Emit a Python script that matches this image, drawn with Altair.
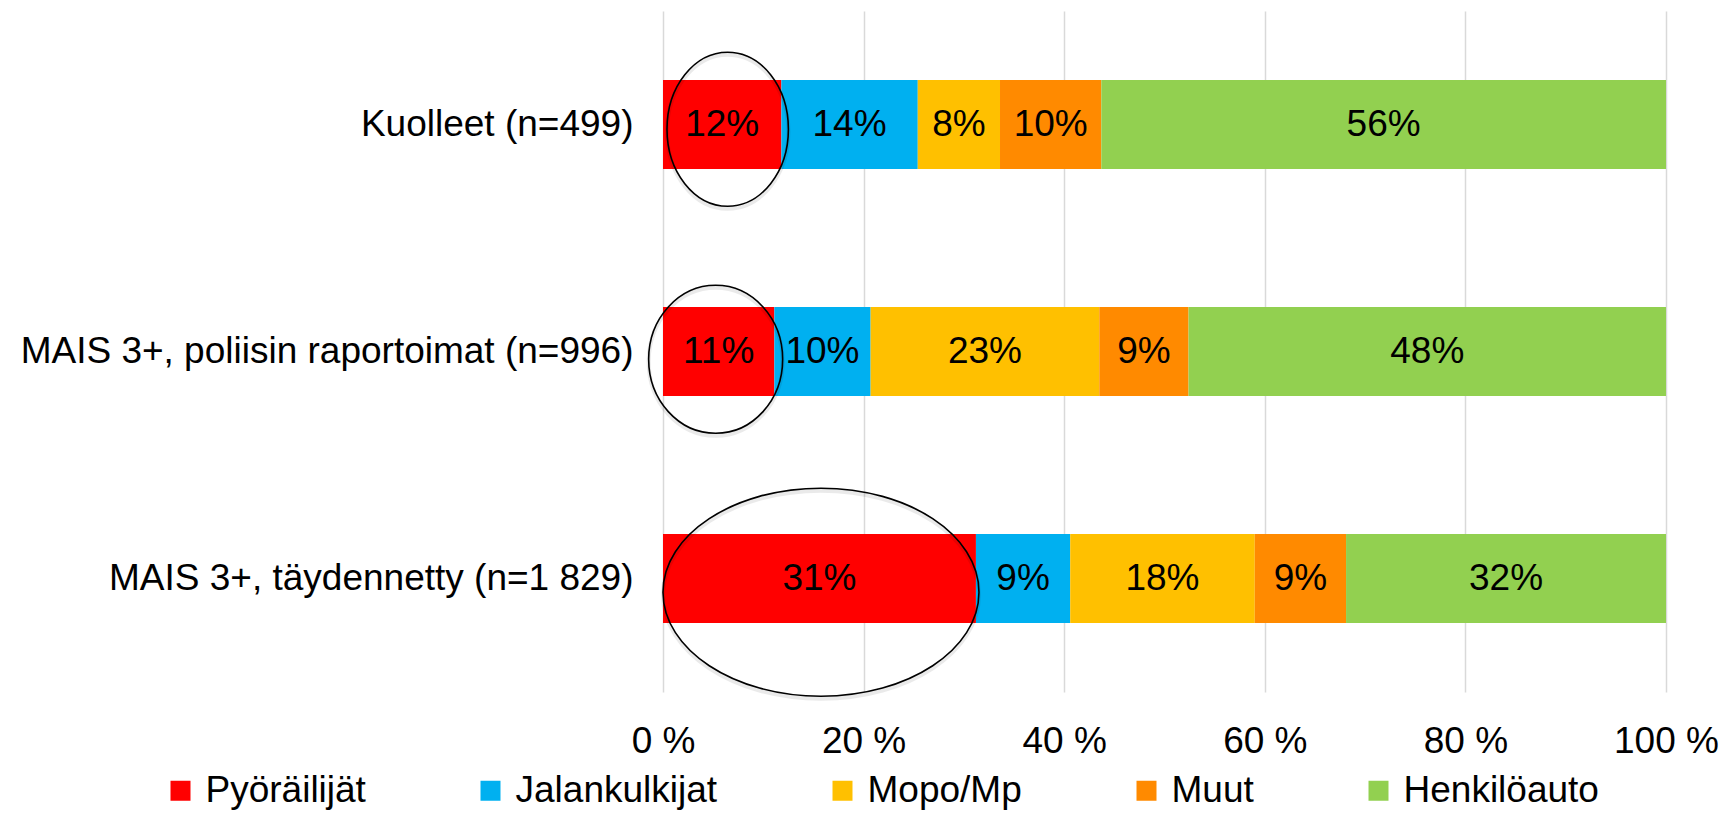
import altair as alt
import pandas as pd

# ---- data -------------------------------------------------------------
categories = [
    "Kuolleet (n=499)",
    "MAIS 3+, poliisin raportoimat (n=996)",
    "MAIS 3+, täydennetty (n=1 829)",
]
groups = ["Pyöräilijät", "Jalankulkijat", "Mopo/Mp", "Muut", "Henkilöauto"]
colors = ["#FF0000", "#00B0F0", "#FFC000", "#FF8A00", "#92D050"]

values_kuolleet = [11.8, 13.6, 8.2, 10.1, 56.3]
values_poliisi = [11.1, 9.6, 22.8, 8.9, 47.6]
values_taydennetty = [31.2, 9.4, 18.4, 9.1, 31.9]
series = [values_kuolleet, values_poliisi, values_taydennetty]

x_ticks = [0, 20, 40, 60, 80, 100]

# highlight ellipses around the cyclist share (centre in % of axis)
ellipse_cats = categories
ellipse_centers = [6.45, 5.25, 15.75]

# ---- styles (pixel sizes of the hand-drawn ellipses) ------------------
ELL_RX = [60.7, 67.0, 158.0]
ELL_RY = [77.0, 74.0, 104.0]
ELL_DY = [4.7, 7.8, 13.7]
FONT = "Liberation Sans"
FS = 37

rows = []
for cat, vals in zip(categories, series):
    for j, (g, v) in enumerate(zip(groups, vals)):
        rows.append({"cat": cat, "group": g, "order": j, "value": v})
df = pd.DataFrame(rows)


def ellipse_path(rx, ry, dy):
    k = 0.5522847
    return (
        f"M{rx},{dy} "
        f"C{rx},{dy + k * ry} {k * rx},{dy + ry} 0,{dy + ry} "
        f"C{-k * rx},{dy + ry} {-rx},{dy + k * ry} {-rx},{dy} "
        f"C{-rx},{dy - k * ry} {-k * rx},{dy - ry} 0,{dy - ry} "
        f"C{k * rx},{dy - ry} {rx},{dy - k * ry} {rx},{dy} Z"
    )


ell_rows = []
for c, cx, rx, ry, dy in zip(ellipse_cats, ellipse_centers, ELL_RX, ELL_RY, ELL_DY):
    ell_rows.append({
        "cat": c,
        "cx": cx,
        "path": ellipse_path(rx, ry, dy),
        "shadow": ellipse_path(rx, ry, dy + 2.5),
    })
df_e = pd.DataFrame(ell_rows)

y_enc = alt.Y(
    "cat:N",
    sort=categories,
    scale=alt.Scale(paddingInner=0.608, paddingOuter=0.304),
    axis=alt.Axis(
        title=None, domain=False, ticks=False, tickSize=0, labelPadding=30,
        labelFontSize=FS, labelLimit=900, labelColor="black", grid=False,
    ),
)
x_scale = alt.Scale(domain=[0, 100], nice=False, zero=True)
x_axis = alt.Axis(
    values=x_ticks, labelExpr="datum.value + ' %'", title=None,
    domain=False, ticks=False, tickSize=0, labelPadding=31,
    labelFontSize=FS, labelColor="black", labelFlush=False,
    labelOverlap=False, grid=True, gridColor="#D9D9D9", gridWidth=1.5,
)


def xq(field):
    return alt.X(field, type="quantitative", scale=x_scale, axis=x_axis, title=None)


base = alt.Chart(df).transform_stack(
    stack="value", groupby=["cat"], sort=[alt.SortField("order")], as_=["x0", "x1"]
).transform_calculate(
    mid="(datum.x0 + datum.x1) / 2",
    label="format(datum.value, '.0f') + '%'",
)

bars = base.mark_bar(strokeWidth=0).encode(
    x=xq("x0"),
    x2="x1:Q",
    y=y_enc,
    color=alt.Color(
        "group:N",
        scale=alt.Scale(domain=groups, range=colors),
        legend=alt.Legend(
            title=None, orient="none", legendX=-501, legendY=761,
            direction="horizontal", symbolType="square", symbolSize=400,
            symbolStrokeWidth=0, labelFontSize=FS, labelOffset=6.5,
            columnPadding=106, labelLimit=0, gridAlign="each",
            labelColor="black", padding=0,
        ),
    ),
    order=alt.Order("order:Q"),
)

texts = base.mark_text(fontSize=FS, color="black", font=FONT).encode(
    x=xq("mid"),
    y=y_enc,
    text="label:N",
)

shadows = alt.Chart(df_e).mark_point(
    filled=False, stroke="#000000", strokeWidth=4, size=4, opacity=0.08
).encode(
    x=xq("cx"),
    y=y_enc,
    shape=alt.Shape("shadow:N", scale=None),
)

ellipses = alt.Chart(df_e).mark_point(
    filled=False, stroke="#000000", strokeWidth=1.6, size=4, opacity=1
).encode(
    x=xq("cx"),
    y=y_enc,
    shape=alt.Shape("path:N", scale=None),
)

chart = alt.layer(bars, texts, shadows, ellipses).properties(
    width=1003,
    height=681,
    autosize=alt.AutoSizeParams(type="none"),
    padding={"left": 655, "top": 3, "right": 55, "bottom": 119},
).configure(
    font=FONT,
).configure_view(
    stroke=None,
)

chart.save("out.html", embed_options={"renderer": "svg", "actions": False})
